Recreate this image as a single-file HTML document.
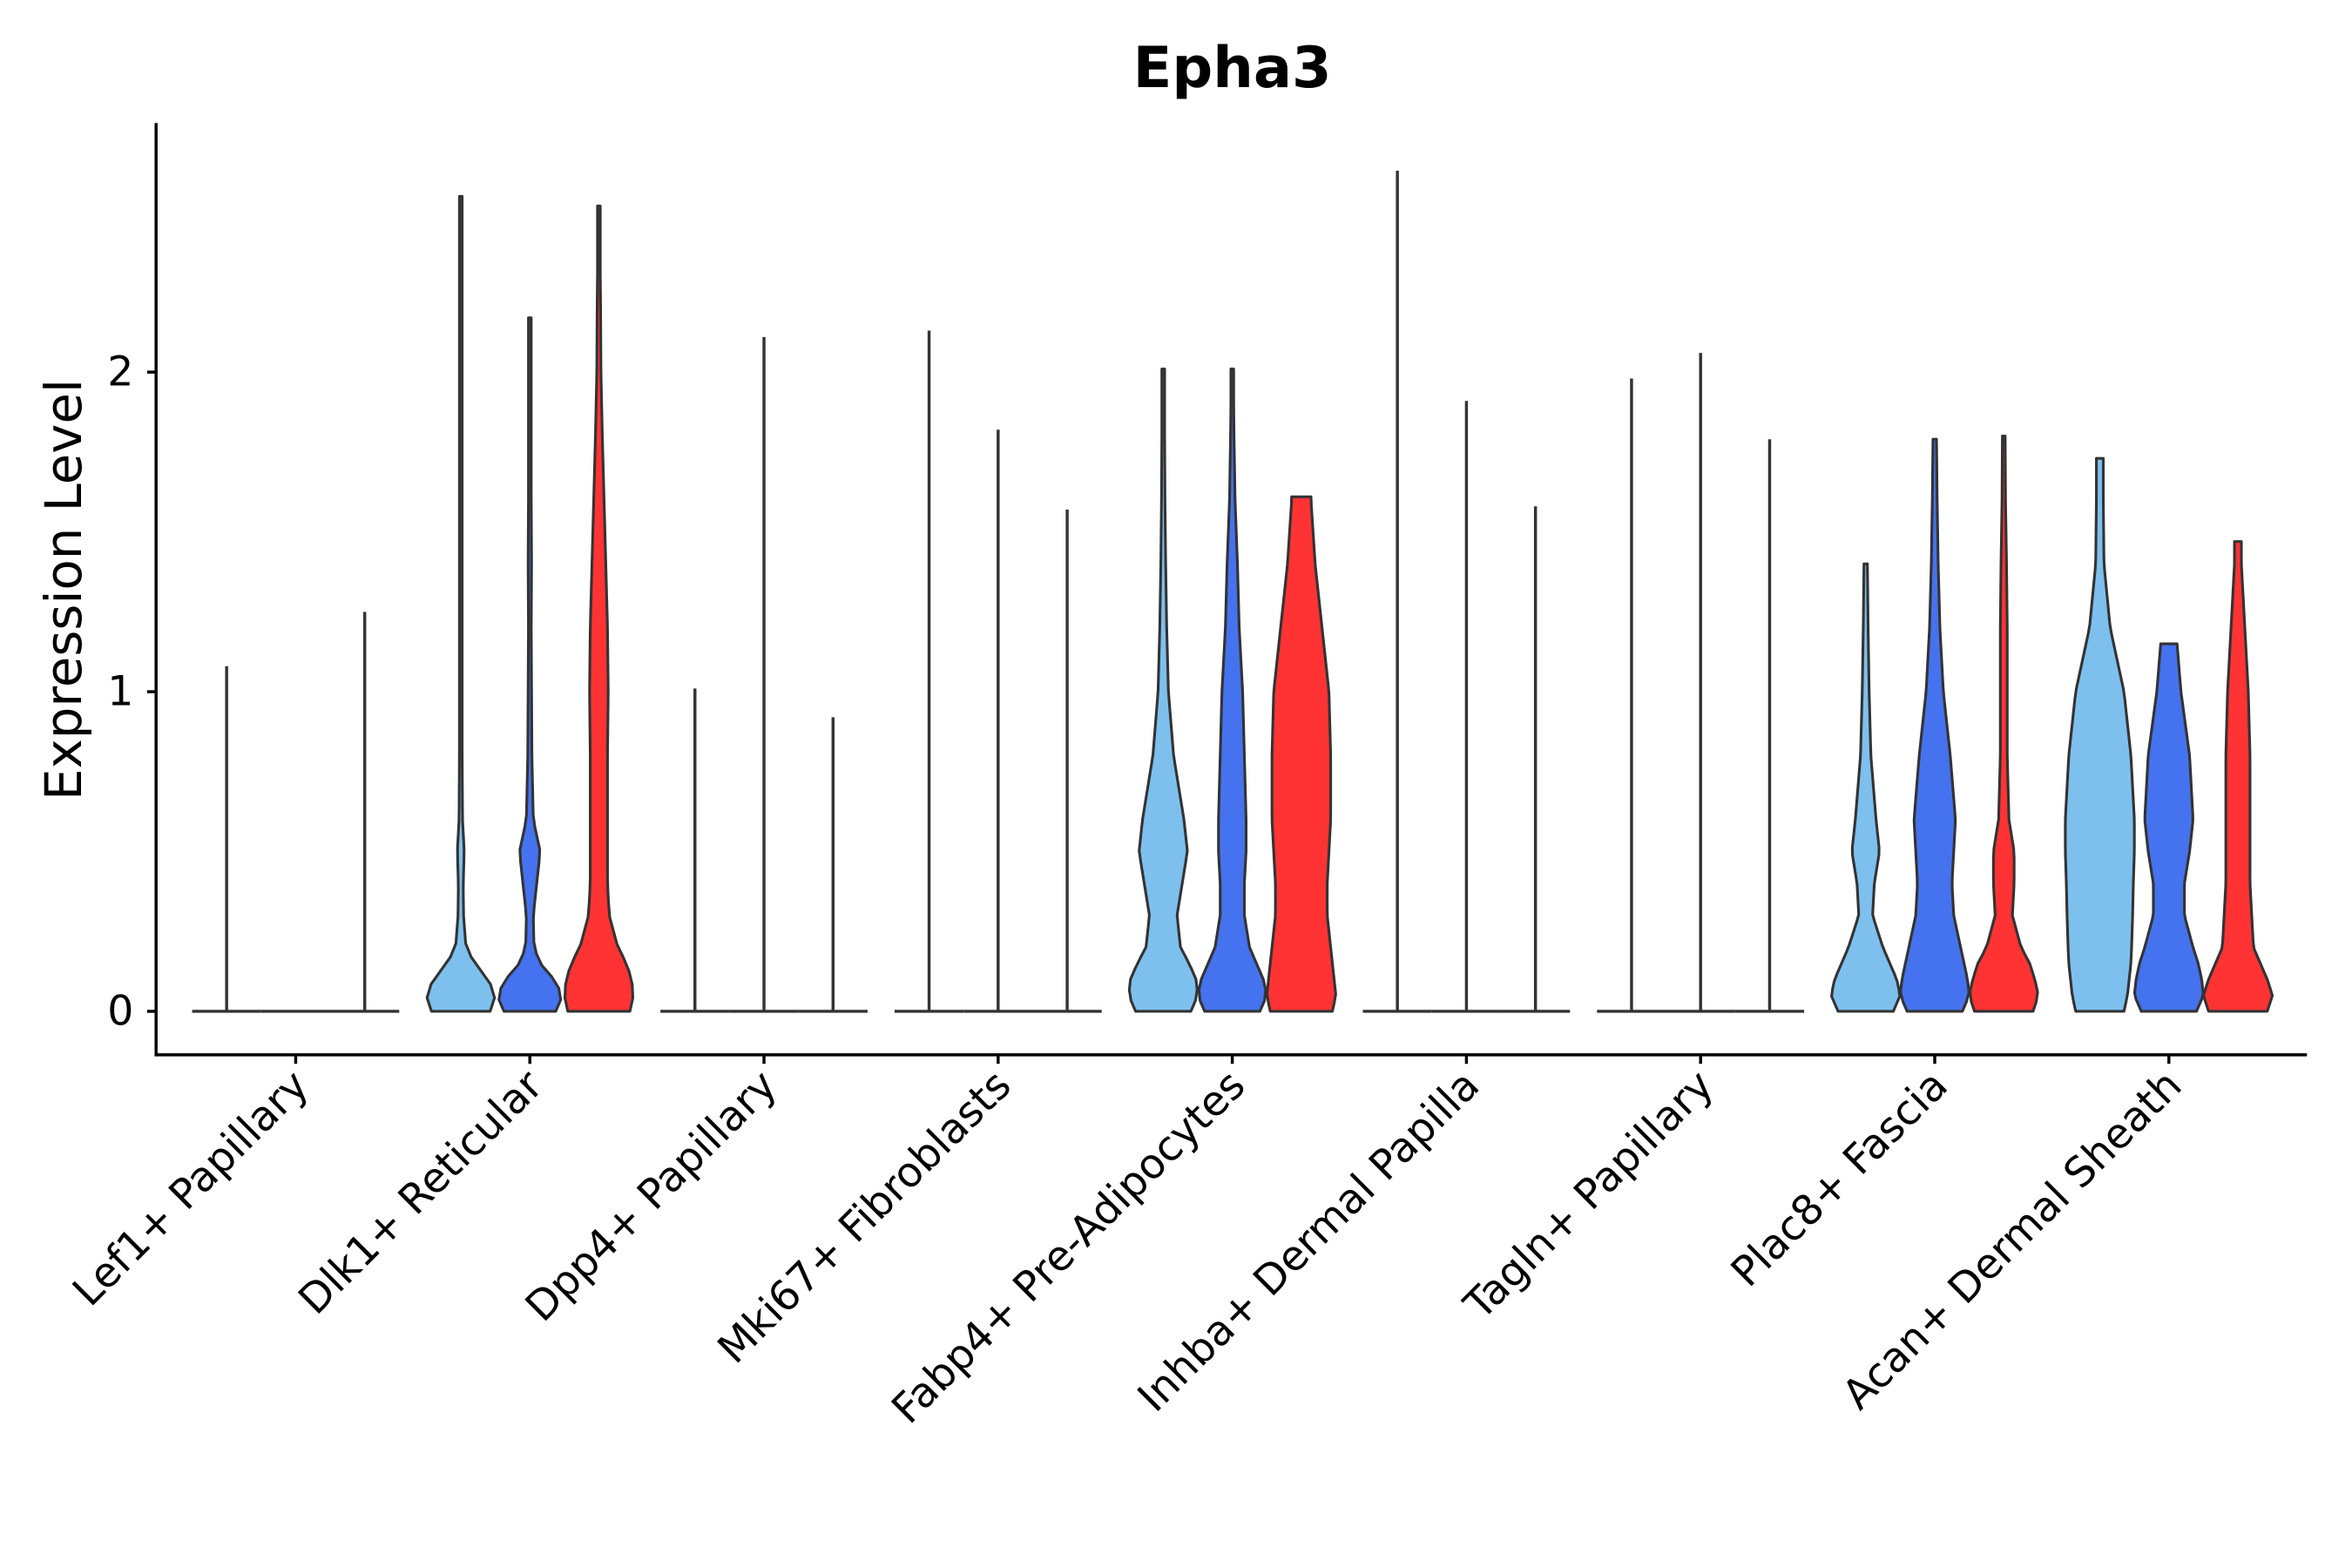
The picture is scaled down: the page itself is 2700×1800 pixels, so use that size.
<!DOCTYPE html>
<html><head><meta charset="utf-8"><style>
html,body{margin:0;padding:0;background:#fff;}
svg{display:block;}
text{font-family:"DejaVu Sans","Liberation Sans",sans-serif;fill:#000;}
</style></head><body>
<svg id="chart" width="2700" height="1800" viewBox="0 0 1567 1045" preserveAspectRatio="none" xmlns="http://www.w3.org/2000/svg">
<rect width="1567" height="1045" fill="#fff"/>
<text x="821" y="58" font-size="38" font-weight="bold" text-anchor="middle">Epha3</text>
<text transform="translate(54,393) rotate(-90)" font-size="33.5" text-anchor="middle">Expression Level</text>
<g id="plot"></g>
</svg>
<script>
const categories = ["Lef1+ Papillary","Dlk1+ Reticular","Dpp4+ Papillary","Mki67+ Fibroblasts","Fabp4+ Pre-Adipocytes","Inhba+ Dermal Papilla","Tagln+ Papillary","Plac8+ Fascia","Acan+ Dermal Sheath"];
const seriesNames = ["sample-1","sample-2","sample-3"];
const seriesColors = ["#7DC0EE","#4572EE","#FF3333"];
const yTicks = [0,1,2];
// max expression per category, per series
const maxValues = [
 [1.08,0,1.25],[2.55,2.17,2.52],[1.01,2.11,0.92],[2.13,1.82,1.57],[2.01,2.01,1.61],
 [2.63,1.91,1.58],[1.98,2.06,1.79],[1.40,1.79,1.80],[1.73,1.15,1.47]
];
// density grid levels (expression)
const densityLevels = [0,0.05,0.1,0.15,0.2,0.3,0.4,0.5,0.6,0.8,1.0,1.2,1.4,1.6,1.8,2.0,2.2,2.4,2.6];
// relative densities (null = nearly all zeros)
const densities = [
 [null,null,null],
 [[0.85,1,0.8,0.4,0.15,0.08,0.07,0.1,0.05,0.04,0.03,0.03,0.03,0.03,0.03,0.03,0.03,0.03,0.03],
  [0.75,0.95,0.7,0.3,0.12,0.1,0.2,0.3,0.1,0.06,0.05,0.04,0.05,0.04,0.04,0.03,0.03],
  [0.9,1,0.95,0.8,0.55,0.3,0.25,0.25,0.25,0.25,0.27,0.25,0.2,0.15,0.1,0.06,0.05,0.03]],
 [null,null,null],[null,null,null],
 [[0.8,1,0.95,0.75,0.5,0.4,0.55,0.7,0.6,0.3,0.15,0.1,0.07,0.05,0.04,0.03],
  [0.8,1,0.9,0.7,0.5,0.35,0.35,0.4,0.4,0.35,0.3,0.2,0.15,0.08,0.05,0.03],
  [0.9,1,0.95,0.9,0.85,0.75,0.75,0.8,0.85,0.85,0.8,0.6,0.4,0.28]],
 [null,null,null],[null,null,null],
 [[0.8,1,0.9,0.7,0.5,0.2,0.25,0.4,0.3,0.15,0.1,0.07,0.05],
  [0.8,1,0.95,0.85,0.75,0.55,0.5,0.55,0.6,0.45,0.25,0.15,0.1,0.07,0.05],
  [0.85,1,0.9,0.75,0.5,0.25,0.3,0.3,0.15,0.1,0.1,0.1,0.08,0.05,0.04]],
 [[0.7,0.8,0.85,0.9,0.92,0.95,0.97,1,1,0.9,0.7,0.3,0.12,0.1,0.1],
  [0.8,1,0.95,0.85,0.7,0.45,0.45,0.6,0.7,0.6,0.35,0.2],
  [0.85,1,0.85,0.65,0.45,0.4,0.35,0.35,0.35,0.35,0.3,0.2,0.1]]
];
const NS="http://www.w3.org/2000/svg";
const g=document.getElementById('plot');
const X0=104,X1=1537,Ytop=82,Ybot=703;
const y=v=>674-v*213;
const xc=i=>197+i*156;
const subOff=[-46,0,46], HW=23;
function mk(t,a){const e=document.createElementNS(NS,t);for(const k in a)e.setAttribute(k,a[k]);g.appendChild(e);return e;}
function dens(d,v){for(let k=0;k<densityLevels.length-1;k++){if(v<=densityLevels[k+1]){const a=densityLevels[k],b=densityLevels[k+1];const da=d[k]??d[d.length-1],db=d[k+1]??d[d.length-1];return da+(db-da)*(v-a)/(b-a);}}return d[d.length-1];}
categories.forEach((c,i)=>{
 seriesNames.forEach((s,j)=>{
  const cx=xc(i)+subOff[j], mx=maxValues[i][j], d=densities[i][j];
  if(d===null){
   const e=mk('line',{x1:cx-HW,x2:cx+HW,y1:y(0),y2:y(0),stroke:'#333','stroke-width':2});
   
   
   if(mx>0){const l=mk('line',{x1:cx,x2:cx,y1:y(0),y2:y(mx),stroke:'#333','stroke-width':2});
    
    }
  } else {
   const pts=[];const steps=60;
   for(let k=0;k<=steps;k++){const v=mx*k/steps;pts.push([v,Math.max(dens(d,v),0.04)*HW]);}
   let p='M'+(cx-pts[0][1])+','+y(0);
   pts.forEach(q=>p+=' L'+(cx-q[1])+','+y(q[0]));
   for(let k=pts.length-1;k>=0;k--)p+=' L'+(cx+pts[k][1])+','+y(pts[k][0]);
   p+=' Z';
   const e=mk('path',{d:p,fill:seriesColors[j],stroke:'#333','stroke-width':1.8,'stroke-linejoin':'round'});
   
   
  }
 });
 const t=mk('line',{x1:xc(i),x2:xc(i),y1:Ybot,y2:Ybot+6,stroke:'#000','stroke-width':2});
 
 
 const lb=mk('text',{transform:`translate(${xc(i)+10},${Ybot+22}) rotate(-45)`,'font-size':27.5,'text-anchor':'end'});
 lb.textContent=c;
 
 
});
yTicks.forEach(v=>{
 const t=mk('line',{x1:X0-6,x2:X0,y1:y(v),y2:y(v),stroke:'#000','stroke-width':2});
 
 
 const lb=mk('text',{x:X0-15,y:y(v)+9,'font-size':27.5,'text-anchor':'end'});
 lb.textContent=v;
 
 
});
const ya=mk('line',{x1:X0,x2:X0,y1:Ytop,y2:Ybot+1,stroke:'#000','stroke-width':2});


const xa=mk('line',{x1:X0-1,x2:X1,y1:Ybot,y2:Ybot,stroke:'#000','stroke-width':2});


</script>
</body></html>
